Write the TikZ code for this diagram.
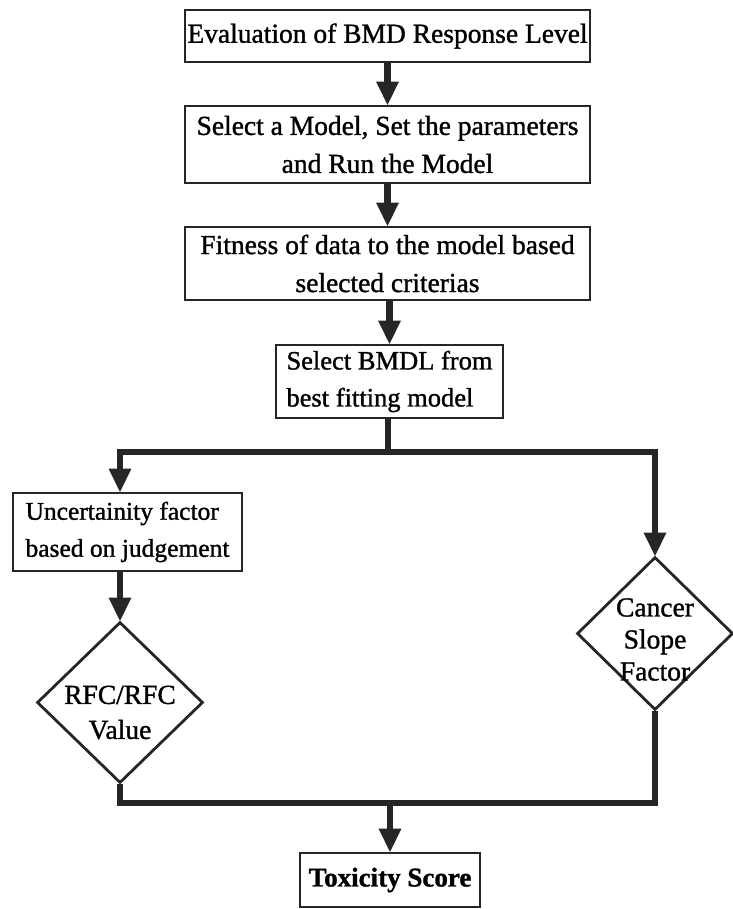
\documentclass[tikz,border=0pt]{standalone}
\usepackage{fontspec}
\setmainfont{Liberation Serif}[RawFeature={embolden=1.2}]
\usetikzlibrary{arrows.meta,shapes.geometric}
\begin{document}
\begin{tikzpicture}[x=1pt,y=-1pt,
  box/.style={draw=black!85, line width=2.8pt, inner sep=0pt, align=center,
    font=\fontsize{27.5}{38}\selectfont},
  dia/.style={draw=black!85, line width=2.8pt, diamond, inner sep=0pt},
  dtext/.style={align=center, font=\fontsize{27.5}{35}\selectfont},
  flow/.style={draw=black!85, line width=6.5pt},
  arr/.style={flow, -{Triangle[width=21pt,length=24pt]}, shorten >=-1pt}]
\useasboundingbox (0,0) rectangle (732,909);
% process boxes
\node[box, minimum width=405, minimum height=52] (eval) at (387.5,36) {Evaluation of BMD Response Level};
\node[box, minimum width=405, minimum height=77] (run) at (387.5,144.5) {Select a Model, Set the parameters\\and Run the Model};
\node[box, minimum width=405, minimum height=73] (fit) at (387.5,263.5) {Fitness of data to the model based\\selected criterias};
\node[box, minimum width=227, minimum height=73, align=left, font=\fontsize{26.5}{37}\selectfont] (bmdl) at (389.5,381.5) {Select BMDL from\\best fitting model};
\node[box, minimum width=229, minimum height=78, align=left, font=\fontsize{25.5}{37}\selectfont] (unc) at (127.5,532) {Uncertainity factor\\based on judgement};
\node[box, minimum width=180, minimum height=54, font=\fontsize{27}{38}\selectfont\bfseries] (tox) at (390,880) {Toxicity Score};
% decision diamonds
\node[dia, minimum width=166, minimum height=161] (rfc) at (120,702.5) {};
\node[dtext] (rfct) at ([yshift=-10]rfc) {RFC/RFC\\Value};
\node[dia, minimum width=156, minimum height=153] (csf) at (655,633.5) {};
\node[dtext, font=\fontsize{27.5}{32}\selectfont] (csft) at ([yshift=-6]csf) {Cancer\\Slope\\Factor};
% junction points
\coordinate (split) at (388,452);
\coordinate (splitL) at (120,452);
\coordinate (splitR) at (655,452);
\coordinate (joinL) at (120,803);
\coordinate (joinR) at (655,803);
\coordinate (joinM) at (390,803);
% connectors
\draw[arr] (eval) -- (run);
\draw[arr] (run) -- (fit);
\draw[arr] (fit.south -| bmdl.north) -- (bmdl.north);
\draw[flow] (bmdl.south -| split) -- (split);
\draw[flow, line cap=rect] (splitL) -- (splitR);
\draw[arr] (splitL) -- (unc.north -| splitL);
\draw[arr] (splitR) -- (csf.north);
\draw[arr] (unc.south -| rfc) -- (rfc.north);
\draw[flow] (rfc.south) -- (joinL);
\draw[flow] (csf.south) -- (joinR);
\draw[flow, line cap=rect] (joinL) -- (joinR);
\draw[arr] (joinM) -- (tox.north -| joinM);
\end{tikzpicture}
\end{document}
